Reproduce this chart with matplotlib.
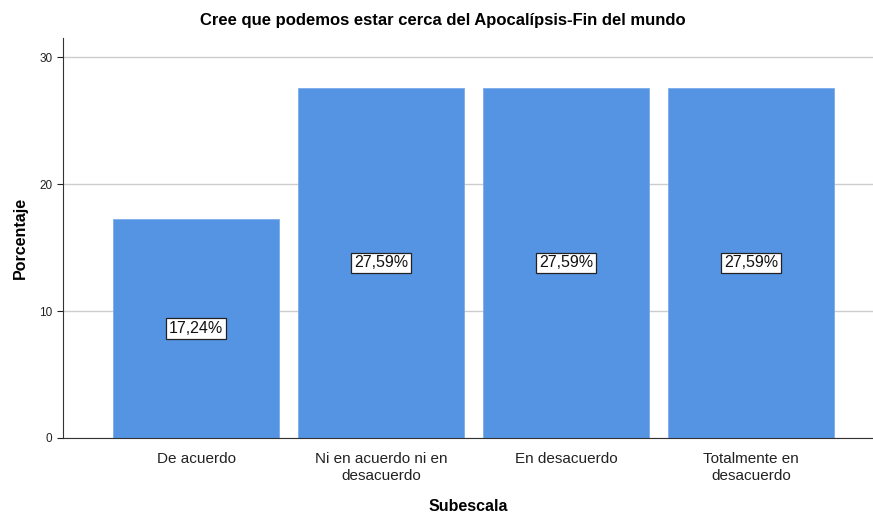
import matplotlib.pyplot as plt

# data
categorias = ['De acuerdo', 'Ni en acuerdo ni en\ndesacuerdo', 'En desacuerdo', 'Totalmente en\ndesacuerdo']
porcentajes = [17.24, 27.59, 27.59, 27.59]
etiquetas = ['17,24%', '27,59%', '27,59%', '27,59%']
yticks = [0, 10, 20, 30]

plt.rcParams['font.family'] = ['Liberation Sans', 'DejaVu Sans']

fig = plt.figure(figsize=(8.73, 5.14), dpi=100)
ax = fig.add_axes([63 / 873, 1 - 438 / 514, 1 - 63 / 873, (438 - 38) / 514])

pos = list(range(len(categorias)))
ax.bar(pos, porcentajes, width=0.897, color='#5594e3', edgecolor='#7aacea', linewidth=0.6, zorder=2)

for p, v, t in zip(pos, porcentajes, etiquetas):
    ax.text(p, v / 2, t, ha='center', va='center', fontsize=11.5, color='#111111', zorder=3,
            bbox=dict(boxstyle='square,pad=0.16', facecolor='white', edgecolor='#222222', linewidth=0.9))

ax.set_xlim(-0.72, 3.66)
ax.set_ylim(0, 31.5)
ax.set_yticks(yticks)
ax.set_xticks(pos)
ax.set_xticklabels(categorias, fontsize=11, color='#222222', linespacing=1.25)
ax.tick_params(axis='y', labelsize=8.5, colors='#222222', length=4, width=0.8)
ax.tick_params(axis='x', length=0, pad=10)
ax.grid(axis='y', color='#cccccc', linewidth=1.0, zorder=0)
for s in ['top', 'right']:
    ax.spines[s].set_visible(False)
ax.spines['left'].set_color('#333333')
ax.spines['bottom'].set_color('#333333')
ax.spines['left'].set_linewidth(0.8)
ax.spines['bottom'].set_linewidth(0.8)

ax.set_ylabel('Porcentaje', fontsize=11.5, fontweight='bold', labelpad=8)
ax.set_xlabel('Subescala', fontsize=11.5, fontweight='bold', labelpad=12)
fig.text(443 / 873, 1 - 20 / 514, 'Cree que podemos estar cerca del Apocalípsis-Fin del mundo',
         ha='center', va='center', fontsize=12, fontweight='bold')

fig.savefig('out.png', dpi=100)
